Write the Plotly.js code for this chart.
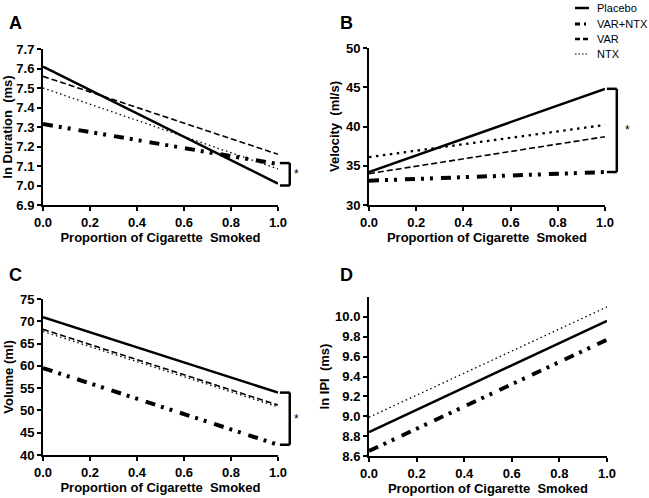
<!DOCTYPE html>
<html>
<head>
<meta charset="utf-8">
<script src="https://cdn.plot.ly/plotly-3.0.1.min.js"></script>
<style>html,body{margin:0;padding:0;background:#fff;}#chart{width:649px;height:498px;}</style>
</head>
<body>
<div id="chart"></div>
<script>
// Data
var xVals = [0.0, 1.0];
var seriesNames = ["Placebo", "VAR+NTX", "VAR", "NTX"];
// Panel A: ln Duration (ms)
var durPlacebo = [7.61, 7.01];
var durVarNtx = [7.315, 7.11];
var durVar = [7.56, 7.16];
var durNtx = [7.50, 7.085];
// Panel B: Velocity (ml/s)
var velPlacebo = [34.2, 44.8];
var velVarNtx = [33.1, 34.2];
var velVar = [34.0, 38.7];
var velNtx = [36.1, 40.2];
// Panel C: Volume (ml)
var volPlacebo = [70.9, 54.0];
var volVarNtx = [59.5, 42.3];
var volVar = [68.2, 51.2];
var volNtx = [67.7, 50.8];
// Panel D: ln IPI (ms)
var ipiPlacebo = [8.84, 9.96];
var ipiVarNtx = [8.65, 9.77];
var ipiNtx = [8.99, 10.10];
// Significance brackets [low, high]
var bracketA = [7.0, 7.115];
var bracketB = [34.2, 44.8];
var bracketC = [42.3, 54.0];
// Tick labels
var xTicks = [0, 0.2, 0.4, 0.6, 0.8, 1.0];
var xTickText = ["0.0", "0.2", "0.4", "0.6", "0.8", "1.0"];
var ticksA = [6.9, 7.0, 7.1, 7.2, 7.3, 7.4, 7.5, 7.6, 7.7];
var ticksB = [30, 35, 40, 45, 50];
var ticksC = [40, 45, 50, 55, 60, 65, 70, 75];
var ticksD = [8.6, 8.8, 9.0, 9.2, 9.4, 9.6, 9.8, 10.0];

var styles = {
  "Placebo": {color: "#000", width: 2.5, dash: "solid"},
  "VAR+NTX": {color: "#000", width: 4, dash: "10px,6px,3px,6px,3px,8px"},
  "VAR": {color: "#000", width: 1.6, dash: "6px,3px"},
  "NTX": {color: "#000", width: 1.3, dash: "1.5px,3px"}
};
var boldNtx = {color: "#000", width: 2.3, dash: "2.5px,4.5px"};
var legendStyles = {
  "Placebo": {color: "#000", width: 2.5, dash: "solid"},
  "VAR+NTX": {color: "#000", width: 3, dash: "5px,4px,2px,4px"},
  "VAR": {color: "#000", width: 2.5, dash: "5px,3px"},
  "NTX": {color: "#000", width: 1, dash: "1.5px,2px"}
};

function tr(name, y, xa, ya, lineOverride) {
  return {x: xVals, y: y, type: "scatter", mode: "lines", name: name,
    xaxis: xa, yaxis: ya, line: lineOverride || styles[name], showlegend: false,
    hoverinfo: "skip"};
}

var data = [
  tr("Placebo", durPlacebo, "x", "y"),
  tr("VAR+NTX", durVarNtx, "x", "y"),
  tr("VAR", durVar, "x", "y"),
  tr("NTX", durNtx, "x", "y"),
  tr("Placebo", velPlacebo, "x2", "y2"),
  tr("VAR+NTX", velVarNtx, "x2", "y2"),
  tr("VAR", velVar, "x2", "y2"),
  tr("NTX", velNtx, "x2", "y2", boldNtx),
  tr("Placebo", volPlacebo, "x3", "y3"),
  tr("VAR+NTX", volVarNtx, "x3", "y3"),
  tr("VAR", volVar, "x3", "y3"),
  tr("NTX", volNtx, "x3", "y3"),
  tr("Placebo", ipiPlacebo, "x4", "y4"),
  tr("VAR+NTX", ipiVarNtx, "x4", "y4"),
  tr("NTX", ipiNtx, "x4", "y4")
];

var W = 649, H = 498;
var FAM = "Liberation Sans, Arial, sans-serif";
function dx(a, b) { return [a / W, b / W]; }
function dy(top, bot) { return [1 - bot / H, 1 - top / H]; }

var tickFont = {family: FAM, size: 13, color: "#000", weight: "bold"};
var titleFont = {family: FAM, size: 13, color: "#000", weight: "bold"};

function xax(dom, anchor) {
  return {domain: dom, anchor: anchor, range: [0, 1], tickvals: xTicks, ticktext: xTickText,
    showgrid: false, zeroline: false, showline: true, linewidth: 2, linecolor: "#000",
    ticks: "outside", ticklen: 4, tickwidth: 2, tickcolor: "#000", tickfont: tickFont,
    automargin: false, fixedrange: true,
    title: {text: "Proportion of Cigarette  Smoked", font: titleFont, standoff: 3}};
}
function yax(dom, anchor, range, ticks, title) {
  return {domain: dom, anchor: anchor, range: range, tickvals: ticks,
    ticktext: ticks.map(function (v) { return (range[1] - range[0] < 5) ? v.toFixed(1) : String(v); }),
    showgrid: false, zeroline: false, showline: true, linewidth: 2, linecolor: "#000",
    ticks: "outside", ticklen: 4, tickwidth: 2, tickcolor: "#000", tickfont: tickFont,
    automargin: false, fixedrange: true,
    title: {text: title, font: titleFont, standoff: 3}};
}

function bracket(xa, ya, lo, hi) {
  var xd = xa + " domain";
  return [
    {type: "line", xref: xd, yref: ya, x0: 1.008, x1: 1.05, y0: hi, y1: hi, line: {color: "#000", width: 2.5}},
    {type: "line", xref: xd, yref: ya, x0: 1.05, x1: 1.05, y0: lo, y1: hi, line: {color: "#000", width: 2.5}},
    {type: "line", xref: xd, yref: ya, x0: 1.008, x1: 1.05, y0: lo, y1: lo, line: {color: "#000", width: 2.5}}
  ];
}
function star(xa, ya, xpos, lo, hi) {
  return {xref: xa + " domain", yref: ya, x: xpos, y: (lo + hi) / 2, text: "*", showarrow: false,
    xanchor: "center", font: {family: FAM, size: 12, color: "#000"}};
}
function letter(t, px, py) {
  return {xref: "paper", yref: "paper", x: px / W, y: 1 - py / H, text: t, showarrow: false,
    xanchor: "left", yanchor: "middle",
    font: {family: FAM, size: 18, color: "#000", weight: "bold"}};
}

// Manual legend (top right)
var legRows = [8, 24, 39, 54];
var legShapes = [], legAnn = [];
seriesNames.forEach(function (n, i) {
  var yy = 1 - legRows[i] / H;
  legShapes.push({type: "line", xref: "paper", yref: "paper", x0: 575 / W, x1: 589 / W,
    y0: yy, y1: yy, line: legendStyles[n]});
  legAnn.push({xref: "paper", yref: "paper", x: 595 / W, y: yy, text: n, showarrow: false,
    xanchor: "left", yanchor: "middle", font: {family: FAM, size: 11, color: "#000"}});
});

var layout = {
  width: W, height: H,
  margin: {l: 0, r: 0, t: 0, b: 0},
  paper_bgcolor: "#fff", plot_bgcolor: "#fff",
  showlegend: false,
  xaxis: xax(dx(43, 278), "y"),
  yaxis: yax(dy(49, 205), "x", [6.9, 7.7], ticksA, "ln Duration  (ms)"),
  xaxis2: xax(dx(369, 605), "y2"),
  yaxis2: yax(dy(48, 205), "x2", [30, 50], ticksB, "Velocity  (ml/s)"),
  xaxis3: xax(dx(43, 278), "y3"),
  yaxis3: yax(dy(299, 455), "x3", [40, 75], ticksC, "Volume (ml)"),
  xaxis4: xax(dx(369, 607), "y4"),
  yaxis4: yax(dy(297, 456), "x4", [8.6, 10.2], ticksD, "ln IPI  (ms)"),
  shapes: [].concat(bracket("x", "y", bracketA[0], bracketA[1]),
                    bracket("x2", "y2", bracketB[0], bracketB[1]),
                    bracket("x3", "y3", bracketC[0], bracketC[1]),
                    legShapes),
  annotations: [
    star("x", "y", 1.08, bracketA[0], bracketA[1]),
    star("x2", "y2", 1.095, bracketB[0], bracketB[1]),
    star("x3", "y3", 1.08, bracketC[0], bracketC[1]),
    letter("A", 7, 23), letter("B", 338, 23), letter("C", 7, 275), letter("D", 338, 275)
  ].concat(legAnn)
};

Plotly.newPlot("chart", data, layout, {displayModeBar: false, staticPlot: true});
</script>
</body>
</html>
